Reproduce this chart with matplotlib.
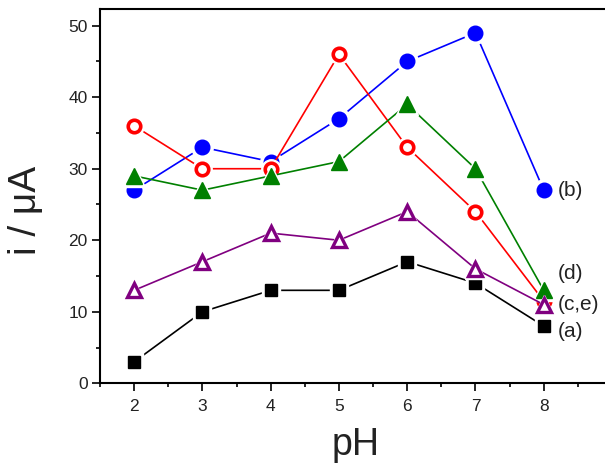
import matplotlib
matplotlib.use("Agg")
import matplotlib.pyplot as plt
from matplotlib.ticker import MultipleLocator

plt.rcParams['font.family'] = ['Liberation Sans', 'DejaVu Sans']

ph = [2, 3, 4, 5, 6, 7, 8]
series_a = [3, 10, 13, 13, 17, 14, 8]
series_b = [27, 33, 31, 37, 45, 49, 27]
series_c = [36, 30, 30, 46, 33, 24, 11.5]
series_d = [29, 27, 29, 31, 39, 30, 13]
series_e = [13, 17, 21, 20, 24, 16, 11]

labels = ["(a)", "(b)", "(c,e)", "(d)"]
label_y = [7.2, 27, 11, 15.4]

fig = plt.figure(figsize=(6.05, 4.65), dpi=100)
ax = fig.add_axes([0.1653, 0.1757, 0.8463, 0.806])

styles = [
    (series_a, dict(color='black', marker='s', ms=8.5, mfc='black', mec='black', mew=1)),
    (series_b, dict(color='blue', marker='o', ms=10.5, mfc='blue', mec='blue', mew=1)),
    (series_c, dict(color='red', marker='o', ms=9, mfc='white', mec='red', mew=2.6)),
    (series_d, dict(color='green', marker='^', ms=11, mfc='green', mec='green', mew=1)),
    (series_e, dict(color='purple', marker='^', ms=9.5, mfc='white', mec='purple', mew=2.4)),
]

z = 2
for vals, st in styles:
    ax.plot(ph, vals, color=st['color'], lw=1.2, zorder=z)
    ax.plot(ph, vals, ls='none', marker=st['marker'], ms=st['ms'] + 5,
            mfc='white', mec='white', zorder=z + 0.5)
    ax.plot(ph, vals, ls='none', marker=st['marker'], ms=st['ms'],
            mfc=st['mfc'], mec=st['mec'], mew=st['mew'], zorder=z + 1)
    z += 2

for lab, y in zip(labels, label_y):
    ax.text(8.2, y, lab, fontsize=15, va='center', ha='left', color='#222222')

ax.set_xlim(1.5, 9.0)
ax.set_ylim(0, 52.4)
ax.xaxis.set_major_locator(MultipleLocator(1))
ax.xaxis.set_minor_locator(MultipleLocator(0.5))
ax.yaxis.set_major_locator(MultipleLocator(10))
ax.yaxis.set_minor_locator(MultipleLocator(5))
ax.set_xticks(ph)
ax.tick_params(which='major', direction='out', length=6, width=1.2, labelsize=12.5,
               labelcolor='#222222')
ax.tick_params(axis='y', which='major', pad=3)
ax.tick_params(axis='x', which='major', pad=5)
ax.tick_params(which='minor', direction='out', length=3, width=1.2)
for s in ax.spines.values():
    s.set_linewidth(1.5)

ax.set_xlabel('pH', fontsize=27, labelpad=10, color='#222222')
ax.set_ylabel('i / μA', fontsize=28, color='#222222')
ax.yaxis.set_label_coords(-0.110, 0.462)

fig.savefig('out.png', dpi=100)
